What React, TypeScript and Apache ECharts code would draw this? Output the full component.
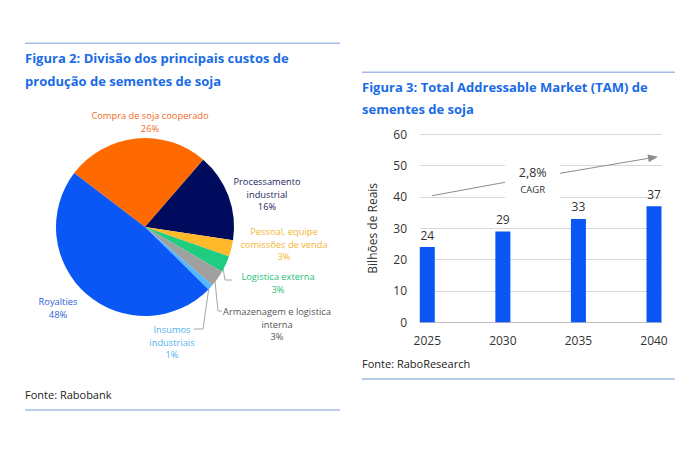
import React, { useEffect, useRef } from "react";
import * as echarts from "echarts";

// Figura 2 — cost breakdown (%)
const costNames = [
  "Compra de soja cooperado",
  "Processamento\nindustrial",
  "Pessoal, equipe\ncomissões de venda",
  "Logistica externa",
  "Armazenagem e logistica\ninterna",
  "Insumos\nindustriais",
  "Royalties",
];
const costShares = [26, 16, 3, 3, 3, 1, 48];
const costColors = ["#ff6a00", "#000b5e", "#ffb92a", "#1fcc80", "#a0a0a0", "#52b8ff", "#0a57f5"];
const costLabelColors = ["#f26a1b", "#1b1f5e", "#f5b531", "#1fbf78", "#555555", "#4fb3f0", "#2a62d8"];

// Figura 3 — TAM (bilhões de reais)
const tamYears = ["2025", "2030", "2035", "2040"];
const tamValues = [24, 29, 33, 37];
const yTicks = { min: 0, max: 60, step: 10 };
const cagrText = "2,8%";

const FONT = "'Open Sans', 'Noto Sans', sans-serif";
const TITLE_BLUE = "#1a6be6";
const RULE = "#a3bbe6";

// where each pie label sits, and its leader line when it has one
const pieLabelPos: { x: number; y: number; line?: number[][] }[] = [
  { x: 150, y: 122 },
  { x: 267, y: 194 },
  { x: 284, y: 244 },
  { x: 278, y: 283, line: [[223, 268], [225, 280], [232, 280]] },
  { x: 277, y: 324, line: [[215, 281], [218, 311], [222, 311]] },
  { x: 172, y: 342, line: [[209, 287], [203, 329], [194, 329]] },
  { x: 58, y: 308 },
];

export default function App() {
  const ref = useRef<HTMLDivElement>(null);

  useEffect(() => {
    if (!ref.current) return;
    const chart = echarts.init(ref.current, null, { renderer: "svg" });

    const ruleLine = (x1: number, x2: number, y: number) => ({
      type: "line",
      shape: { x1, y1: y, x2, y2: y },
      style: { stroke: RULE, lineWidth: 1.5 },
      silent: true,
    });
    const text = (x: number, y: number, t: string, size: number, color: string, weight = "normal", align = "left") => ({
      type: "text",
      x,
      y,
      style: {
        text: t,
        fontSize: size,
        fontFamily: FONT,
        fontWeight: weight,
        fill: color,
        align,
        verticalAlign: "middle",
      },
      silent: true,
    });

    // trend arrow for the CAGR callout
    const tip = [658, 156.7];
    const from = [560, 173.3];
    const dx = tip[0] - from[0];
    const dy = tip[1] - from[1];
    const len = Math.hypot(dx, dy);
    const ux = dx / len;
    const uy = dy / len;
    const bx = tip[0] - 10 * ux;
    const by = tip[1] - 10 * uy;
    const nx = -uy * 4;
    const ny = ux * 4;

    chart.setOption({
      animation: false,
      textStyle: { fontFamily: FONT },
      grid: [
        { left: 420, right: 38, top: 134.3, bottom: 131.7 },
        { left: 427.3, right: 46, top: 134.3, bottom: 131.7 },
      ],
      xAxis: [
        {
          gridIndex: 0,
          type: "value",
          min: 0,
          max: 1,
          axisLabel: { show: false },
          axisTick: { show: false },
          splitLine: { show: false },
          axisLine: { show: true, lineStyle: { color: "#bdbdbd", width: 1 } },
        },
        {
          gridIndex: 1,
          type: "category",
          data: tamYears,
          boundaryGap: false,
          axisLine: { show: false },
          axisTick: { show: false },
          axisLabel: { color: "#333", fontSize: 12, margin: 12, fontFamily: FONT },
        },
      ],
      yAxis: [
        {
          gridIndex: 0,
          type: "value",
          min: yTicks.min,
          max: yTicks.max,
          interval: yTicks.step,
          name: "Bilhões de Reais",
          nameLocation: "middle",
          nameGap: 42,
          nameTextStyle: { color: "#333", fontSize: 12, fontFamily: FONT },
          axisLabel: { color: "#333", fontSize: 12, margin: 13, fontFamily: FONT },
          axisLine: { show: false },
          axisTick: { show: false },
          splitLine: { lineStyle: { color: "#d9d9d9", width: 1 } },
        },
        {
          gridIndex: 1,
          type: "value",
          min: yTicks.min,
          max: yTicks.max,
          interval: yTicks.step,
          show: false,
          splitLine: { show: false },
        },
      ],
      series: [
        {
          type: "bar",
          xAxisIndex: 1,
          yAxisIndex: 1,
          data: tamValues,
          barWidth: 15,
          clip: false,
          itemStyle: { color: "#0a57f5" },
          label: {
            show: true,
            position: "top",
            distance: 6,
            color: "#333",
            fontSize: 12,
            fontFamily: FONT,
          },
        },
        {
          type: "pie",
          center: [145, 227],
          radius: 89,
          startAngle: 142.7,
          clockwise: true,
          data: costNames.map((name, i) => ({
            name,
            value: costShares[i],
            itemStyle: { color: costColors[i] },
            label: { color: costLabelColors[i] },
            labelLine: { show: !!pieLabelPos[i].line },
          })),
          label: {
            show: true,
            position: "outside",
            alignTo: "none",
            overflow: "none",
            formatter: "{b}\n{c}%",
            fontSize: 9.3,
            lineHeight: 12.5,
            align: "center",
            fontFamily: FONT,
          },
          labelLine: {
            length: 5,
            length2: 5,
            lineStyle: { color: "#a6a6a6", width: 1 },
          },
          labelLayout: (params: any) => {
            const p = pieLabelPos[params.dataIndex];
            const out: any = {
              x: p.x,
              y: p.y,
              align: "center",
              verticalAlign: "middle",
              hideOverlap: false,
              moveOverlap: null,
              width: 200,
            };
            if (p.line) out.labelLinePoints = p.line;
            return out;
          },
        },
      ],
      graphic: [
        ruleLine(25, 340, 43.3),
        ruleLine(362, 675, 72.3),
        ruleLine(25, 340, 410),
        ruleLine(362, 675, 379),
        text(25, 58.3, "Figura 2: Divisão dos principais custos de", 13, TITLE_BLUE, "bold"),
        text(25, 80.5, "produção de sementes de soja", 13, TITLE_BLUE, "bold"),
        text(362, 87.3, "Figura 3: Total Addressable Market (TAM) de", 13, TITLE_BLUE, "bold"),
        text(362, 108.5, "sementes de soja", 13, TITLE_BLUE, "bold"),
        text(25, 394, "Fonte: Rabobank", 11, "#222"),
        text(362, 363, "Fonte: RaboResearch", 11, "#222"),
        {
          type: "rect",
          shape: { x: 505, y: 158, width: 55, height: 43 },
          style: { fill: "#ffffff" },
          z: 10,
          silent: true,
        },
        {
          type: "line",
          shape: { x1: 432, y1: 195.7, x2: 505, y2: 182.3 },
          style: { stroke: "#8c8c8c", lineWidth: 1 },
          z: 11,
          silent: true,
        },
        {
          type: "line",
          shape: { x1: from[0], y1: from[1], x2: bx, y2: by },
          style: { stroke: "#8c8c8c", lineWidth: 1 },
          z: 11,
          silent: true,
        },
        {
          type: "polygon",
          shape: { points: [tip, [bx + nx, by + ny], [bx - nx, by - ny]] },
          style: { fill: "#8c8c8c" },
          z: 11,
          silent: true,
        },
        { ...text(532.7, 172.5, cagrText, 12.5, "#333", "normal", "center"), z: 12 },
        { ...text(532.7, 189, "CAGR", 9.5, "#333", "normal", "center"), z: 12 },
      ],
    });

    return () => chart.dispose();
  }, []);

  return (
    <div
      ref={ref}
      style={{ position: "fixed", left: 0, top: 0, width: 700, height: 454, background: "#fff" }}
    />
  );
}
